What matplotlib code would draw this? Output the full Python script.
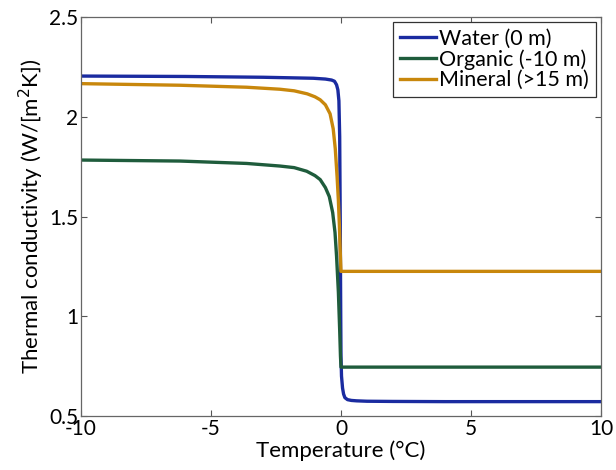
# Thermal conductivity vs temperature for three soil layers

import matplotlib.pyplot as plt
import numpy as np

plt.rcParams['font.family'] = ['Lato', 'DejaVu Sans']

# values
water_t = [-10, -6, -3, -1.06, -0.6, -0.36, -0.25, -0.17, -0.12, -0.08, -0.05, -0.03, -0.01, 0.0,
           0.02, 0.06, 0.1, 0.15, 0.25, 0.4, 0.6, 1.0, 2.0, 4, 10]
water_k = [2.204, 2.202, 2.198, 2.193, 2.189, 2.184, 2.178, 2.16, 2.135, 2.08, 1.9, 1.5, 1.0, 0.80,
           0.70, 0.64, 0.61, 0.592, 0.582, 0.578, 0.576, 0.574, 0.573, 0.572, 0.572]

organic_t = [-10, -6.19, -3.63, -2.35, -1.8, -1.32, -1.0, -0.8, -0.6, -0.45, -0.32, -0.23,
             -0.17, -0.1, -0.05, -0.02, 0.0, 10]
organic_k = [1.783, 1.778, 1.766, 1.753, 1.745, 1.727, 1.705, 1.685, 1.645, 1.60, 1.52, 1.42,
             1.30, 1.12, 0.93, 0.80, 0.745, 0.745]

mineral_t = [-10, -6.19, -3.63, -2.35, -1.8, -1.3, -1.0, -0.8, -0.6, -0.42, -0.3, -0.22,
             -0.15, -0.1, -0.06, -0.03, 0.0, 10]
mineral_k = [2.166, 2.158, 2.148, 2.138, 2.13, 2.115, 2.10, 2.085, 2.06, 2.015, 1.94, 1.84,
             1.70, 1.58, 1.45, 1.33, 1.225, 1.225]

labels = ['Water (0 m)', 'Organic (-10 m)', 'Mineral (>15 m)']
colors = ['#1a2ba0', '#1f5c3c', '#c8870c']

x_ticks = [-10, -5, 0, 5, 10]
y_ticks = [0.5, 1, 1.5, 2, 2.5]
y_tick_labels = ['0.5', '1', '1.5', '2', '2.5']

fig = plt.figure(figsize=(6.16, 4.70), dpi=100)
ax = fig.add_axes([0.1315, 0.1149, 0.8441, 0.8489])

ax.plot(water_t, water_k, color=colors[0], lw=2.4, label=labels[0])
ax.plot(organic_t, organic_k, color=colors[1], lw=2.4, label=labels[1])
ax.plot(mineral_t, mineral_k, color=colors[2], lw=2.4, label=labels[2])

ax.set_xlim(-10, 10)
ax.set_ylim(0.5, 2.5)
ax.set_xticks(x_ticks)
ax.set_xticklabels([str(t) for t in x_ticks])
ax.set_yticks(y_ticks)
ax.set_yticklabels(y_tick_labels)

ax.tick_params(direction='in', length=4, width=0.8, color='#555555',
               labelsize=15, top=True, right=True, pad=2)
for s in ax.spines.values():
    s.set_color('#666666')
    s.set_linewidth(0.9)

ax.set_xlabel('Temperature (°C)', fontsize=16, labelpad=1)
ax.set_ylabel('Thermal conductivity (W/[m$^2$K])', fontsize=16, labelpad=2)

leg = ax.legend(loc='upper right', fontsize=15.5, handlelength=1.7, handletextpad=0.15,
                borderaxespad=0.25, borderpad=0.3, labelspacing=0.02, fancybox=False,
                framealpha=1)
leg.get_frame().set_edgecolor('#333333')
leg.get_frame().set_linewidth(0.9)

fig.savefig('out.png', dpi=100)
